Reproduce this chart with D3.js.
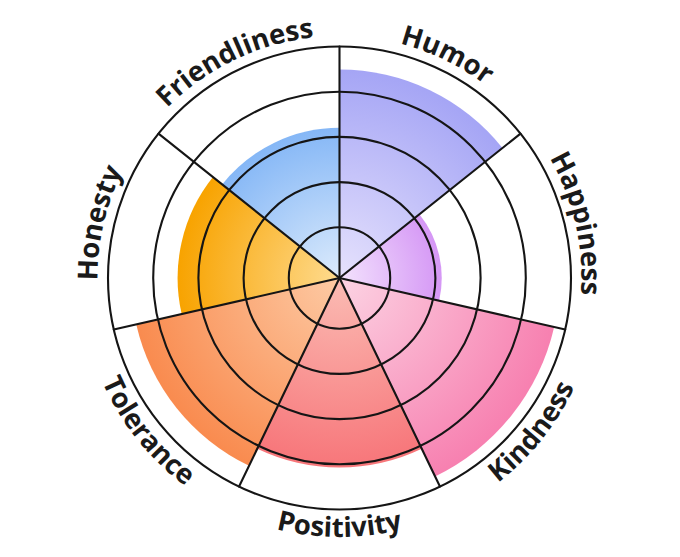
<!DOCTYPE html>
<html>
<head>
<meta charset="utf-8">
<script src="https://cdn.jsdelivr.net/npm/d3@7"></script>
<style>
  body { margin: 0; background: #fff; }
</style>
</head>
<body>
<svg id="chart"></svg>
<script>
// data
const categories = ['Humor', 'Happiness', 'Kindness', 'Positivity', 'Tolerance', 'Honesty', 'Friendliness'];
const values = [4.49, 2.14, 4.75, 4.07, 4.49, 3.46, 3.2];
const innerColors = ['#e6e2fd', '#f3e3fd', '#fcd3e3', '#fbbcb4', '#fdcaa4', '#fedb8f', '#dcebfc'];
const outerColors = ['#a5a5f5', '#d597f5', '#f780b0', '#f7767a', '#f98b4f', '#f8a300', '#85b7f6'];
const ringValues = [1, 2, 3, 4, 5];

const width = 680, height = 557;
const cx = 339.5, cy = 278;
const outerR = 231.5;

const svg = d3.select('#chart')
  .attr('width', width)
  .attr('height', height);

const defs = svg.append('defs');
const g = svg.append('g')
  .attr('transform', 'translate(' + cx + ',' + cy + ')');

const n = categories.length;
const angle = d3.scaleLinear().domain([0, n]).range([0, 2 * Math.PI]);
const r = d3.scaleLinear().domain([0, 5]).range([5.5, outerR]);

// gradients, light at the centre
categories.forEach((c, i) => {
  const grad = defs.append('radialGradient')
    .attr('id', 'grad' + i)
    .attr('gradientUnits', 'userSpaceOnUse')
    .attr('cx', 0).attr('cy', 0)
    .attr('r', r(values[i]));
  grad.append('stop').attr('offset', '0%').attr('stop-color', innerColors[i]);
  grad.append('stop').attr('offset', '100%').attr('stop-color', outerColors[i]);
});

const arc = d3.arc()
  .innerRadius(0)
  .outerRadius((d, i) => r(d))
  .startAngle((d, i) => angle(i))
  .endAngle((d, i) => angle(i + 1));

g.selectAll('.sector')
  .data(values)
  .enter()
  .append('path')
  .attr('class', 'sector')
  .attr('d', (d, i) => arc(d, i))
  .attr('fill', (d, i) => 'url(#grad' + i + ')');

// rings
g.selectAll('.ring')
  .data(ringValues)
  .enter()
  .append('circle')
  .attr('class', 'ring')
  .attr('r', d => r(d))
  .attr('fill', 'none')
  .attr('stroke', '#151515')
  .attr('stroke-width', 2.1);

// spokes
g.selectAll('.spoke')
  .data(d3.range(n))
  .enter()
  .append('line')
  .attr('class', 'spoke')
  .attr('x1', 0).attr('y1', 0)
  .attr('x2', i => outerR * Math.sin(angle(i)))
  .attr('y2', i => -outerR * Math.cos(angle(i)))
  .attr('stroke', '#151515')
  .attr('stroke-width', 2.1)
  .attr('stroke-linecap', 'round');

// curved labels
const pt = (a, rad) => [rad * Math.sin(a), -rad * Math.cos(a)];
const topR = 242, bottomR = 259, span = 1.0;

categories.forEach((c, i) => {
  const mid = angle(i + 0.5);
  const flip = mid > Math.PI / 2 && mid < 3 * Math.PI / 2;
  let d;
  if (!flip) {
    const p0 = pt(mid - span, topR), p1 = pt(mid + span, topR);
    d = 'M' + p0 + 'A' + topR + ',' + topR + ' 0 0 1 ' + p1;
  } else {
    const p0 = pt(mid + span, bottomR), p1 = pt(mid - span, bottomR);
    d = 'M' + p0 + 'A' + bottomR + ',' + bottomR + ' 0 0 0 ' + p1;
  }
  defs.append('path').attr('id', 'lab' + i).attr('d', d);
  g.append('text')
    .attr('font-family', '"Open Sans", sans-serif')
    .attr('font-weight', 700)
    .attr('font-size', 27.5)
    .attr('fill', '#1a1a1a')
    .append('textPath')
    .attr('href', '#lab' + i)
    .attr('startOffset', '50%')
    .attr('text-anchor', 'middle')
    .text(c);
});
</script>
</body>
</html>
